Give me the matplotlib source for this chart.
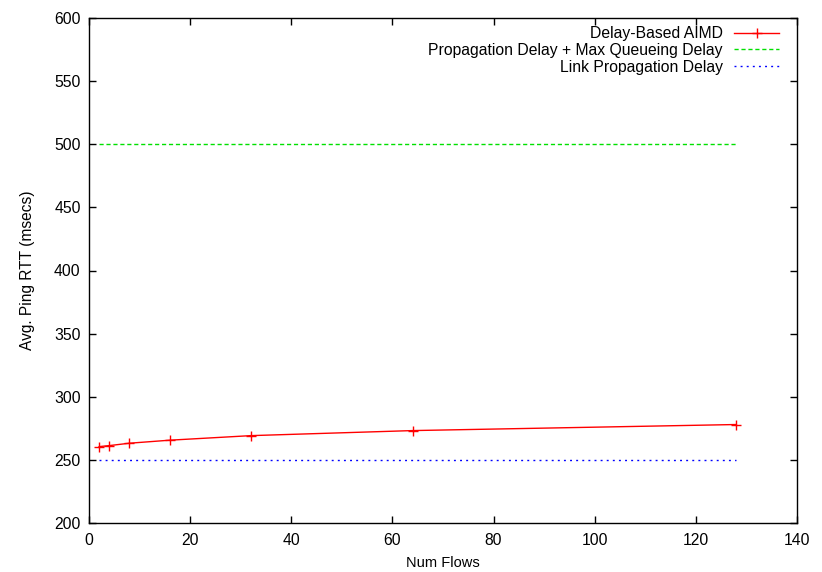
import matplotlib
matplotlib.use("Agg")
import matplotlib.pyplot as plt

plt.rcParams['font.family'] = ['Liberation Sans', 'DejaVu Sans']

num_flows = [2, 4, 8, 16, 32, 64, 128]
aimd_rtt = [260.5, 261.3, 263.2, 265.6, 269.2, 273.2, 278.0]
max_queue_delay = [500, 500, 500, 500, 500, 500, 500]
link_prop_delay = [250, 250, 250, 250, 250, 250, 250]

fig = plt.figure(figsize=(8.22, 5.72), dpi=100)
ax = fig.add_axes([89 / 822, 1 - 523 / 572, 708 / 822, 505 / 572])

ax.plot(num_flows, aimd_rtt, color='#ff0000', lw=1, marker='+', ms=7, mew=1,
        label='Delay-Based AIMD')
ax.plot(num_flows, max_queue_delay, color='#00e000', lw=1, dashes=(3, 2),
        label='Propagation Delay + Max Queueing Delay')
ax.plot(num_flows, link_prop_delay, color='#0000ff', lw=1, dashes=(1.4, 3),
        label='Link Propagation Delay')

ax.set_xlim(0, 140)
ax.set_ylim(200, 600)
ax.set_xticks(range(0, 141, 20))
ax.set_yticks(range(200, 601, 50))
ax.tick_params(direction='in', length=5, width=1, top=True, right=True,
               labelsize=11.3)
ax.tick_params(axis='x', pad=7)
ax.tick_params(axis='y', pad=6)
for s in ax.spines.values():
    s.set_linewidth(1)

ax.set_xlabel('Num Flows', fontsize=10.5, labelpad=6)
ax.set_ylabel('Avg. Ping RTT (msecs)', fontsize=11.2, labelpad=14)

ax.legend(loc='upper right', bbox_to_anchor=((779 - 89) / 708, (523 - 26) / 505),
          frameon=False, markerfirst=False, fontsize=11.3, borderpad=0,
          borderaxespad=0, handlelength=2.85, handletextpad=0.75,
          labelspacing=0.12)

fig.savefig('out.png', dpi=100)
